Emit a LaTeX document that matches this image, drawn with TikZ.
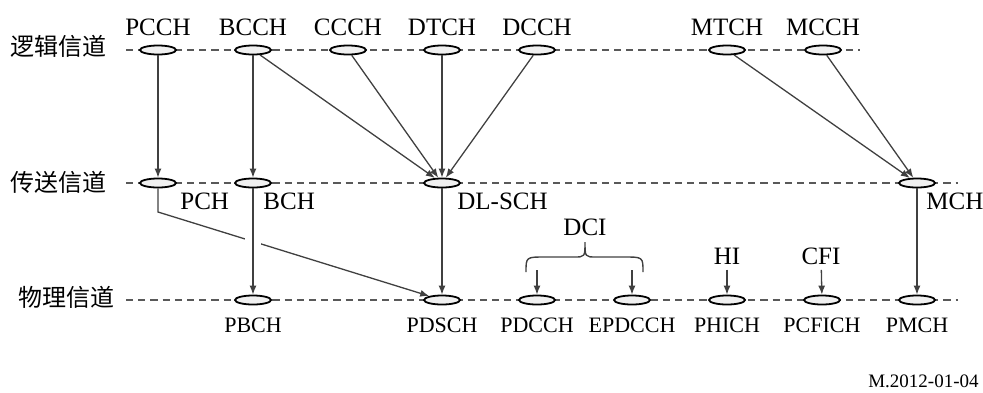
\documentclass[tikz,border=0pt]{standalone}
\usepackage{fontspec}
\setmainfont{Liberation Serif}
\newfontfamily\cjk{Noto Sans CJK SC}
\usetikzlibrary{calc,shapes.geometric,arrows.meta}
\tikzset{
	chan/.style={ellipse, draw=black, line width=0.9pt, fill=black!6, minimum width=18pt, minimum height=4.5pt, inner sep=0pt},
	layer/.style={draw=black!65, line width=0.8pt, dash pattern=on 3.6pt off 2.5pt},
	arr/.style={draw=black!75, line width=0.65pt, -{Latex[length=4.5pt,width=3.5pt]}},
	txt/.style={font=\fontsize{12.5}{15}\selectfont, inner sep=1pt},
	phy/.style={font=\fontsize{11}{13}\selectfont, inner sep=1pt},
	row/.style={font=\cjk\fontsize{12}{14}\selectfont, anchor=east, inner sep=0pt},
	up/.style={label={[txt,label distance=3.3pt]above:#1}},
	down/.style={label={[phy,label distance=5.3pt]below:#1}}
}

\begin{document}
\begin{tikzpicture}[x=0.5pt, y=-0.5pt]
		%%%%% START %%%%%
		\useasboundingbox (0,0) rectangle (983,392);
		
		\node[row] (logic) at (107,46) {逻辑信道};
		\node[row] (trans) at (107,182) {传送信道};
		\node[row] (phys) at (115,297) {物理信道};
		
		\draw[layer] (126,50) -- (860,50);
		\draw[layer] (126,183) -- (958,183);
		\draw[layer] (126,300) -- (958,300);
		
		% logical channels
		\node[chan, up=PCCH] (pcch) at (158,50) {};
		\node[chan, up=BCCH] (bcch) at (253,50) {};
		\node[chan, up=CCCH] (ccch) at (348,50) {};
		\node[chan, up=DTCH] (dtch) at (442,50) {};
		\node[chan, up=DCCH] (dcch) at (537,50) {};
		\node[chan, up=MTCH] (mtch) at (727,50) {};
		\node[chan, up=MCCH] (mcch) at (823,50) {};
		
		% transport channels
		\node[chan] (pch) at (158,183) {};
		\node[chan] (bch) at (253,183) {};
		\node[chan] (dlsch) at (442,183) {};
		\node[chan] (mch) at (917,183) {};
		\node[txt, anchor=west] (pchl) at (178,201) {PCH};
		\node[txt, anchor=west] (bchl) at (261,201) {BCH};
		\node[txt, anchor=west] (dlschl) at (455,201) {DL-SCH};
		\node[txt, anchor=west] (mchl) at (924,201) {MCH};
		
		% physical channels
		\node[chan, down=PBCH] (pbch) at (253,300) {};
		\node[chan, down=PDSCH] (pdsch) at (442,300) {};
		\node[chan, down=PDCCH] (pdcch) at (537,300) {};
		\node[chan, down=EPDCCH] (epdcch) at (632,300) {};
		\node[chan, down=PHICH] (phich) at (727,300) {};
		\node[chan, down=PCFICH] (pcfich) at (822,300) {};
		\node[chan, down=PMCH] (pmch) at (917,300) {};
		
		\draw[arr] (pcch) -- (pch);
		\draw[arr] (bcch) -- (bch);
		\draw[arr] (bcch) -- (dlsch);
		\draw[arr] (ccch) -- (dlsch);
		\draw[arr] (dtch) -- (dlsch);
		\draw[arr] (dcch) -- (dlsch);
		\draw[arr] (mtch) -- (mch);
		\draw[arr] (mcch) -- (mch);
		
		\coordinate (pchk) at (158,212);
		\draw[arr] (pch) -- (pchk) -- (pdsch);
		\draw[white, line width=8pt] ($(bch)!0.5!(pbch)$) ++(0,-10) -- ++(0,20);
		\draw[arr] (bch) -- (pbch);
		\draw[arr] (dlsch) -- (pdsch);
		\draw[arr] (mch) -- (pmch);
		
		% control information
		\node[txt] (dci) at (585,227) {DCI};
		\draw[black!75, line width=0.7pt] (526,272) .. controls (526,257) .. (545,257) -- (574,257) .. controls (585,257) .. (585,242) .. controls (585,257) .. (596,257) -- (624,257) .. controls (643,257) .. (643,272);
		\coordinate (dcia) at (537,270);
		\coordinate (dcib) at (632,270);
		\draw[arr] (dcia) -- (pdcch);
		\draw[arr] (dcib) -- (epdcch);
		
		\node[txt] (hi) at (727,256) {HI};
		\node[txt] (cfi) at (821,256) {CFI};
		\draw[arr, shorten <=1.5pt] (hi) -- (phich);
		\draw[arr, shorten <=1.5pt] (cfi) -- (pcfich);
		
		\node[font=\fontsize{9.5}{11}\selectfont, anchor=east, inner sep=0pt] (fig) at (979,381) {M.2012-01-04};
		%%%%% END %%%%%
\end{tikzpicture}
\end{document}
